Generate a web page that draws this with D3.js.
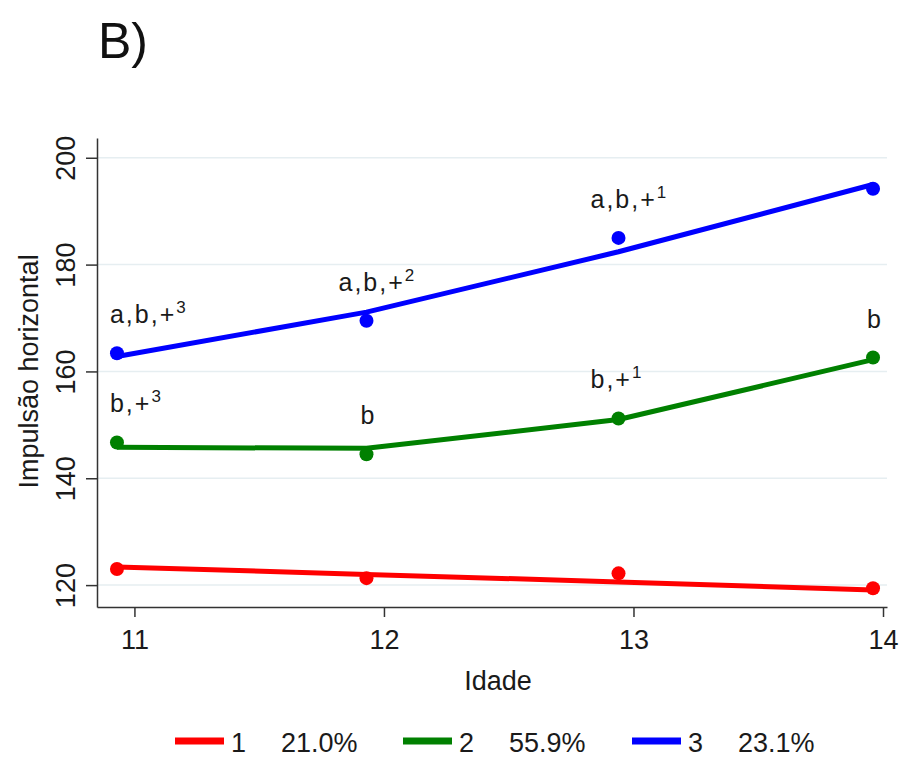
<!DOCTYPE html>
<html>
<head>
<meta charset="utf-8">
<script src="https://cdn.jsdelivr.net/npm/d3@7"></script>
<style>
  body { margin: 0; background: #fff; }
  svg { font-family: "Liberation Sans", Arial, sans-serif; }
</style>
</head>
<body>
<svg id="chart"></svg>
<script>
// data
const ages = [10.93, 11.93, 12.94, 13.96];
const xTicks = [11, 12, 13, 14];
const yTicks = [120, 140, 160, 180, 200];

const groupNames = ["1", "2", "3"];
const groupShares = ["21.0%", "55.9%", "23.1%"];
const groupColors = ["#ff0000", "#008000", "#0000ff"];

// observed means (dots)
const observed1 = [123.0, 121.3, 122.2, 119.4];
const observed2 = [146.7, 144.5, 151.2, 162.6];
const observed3 = [163.4, 169.5, 185.0, 194.2];

// fitted trajectories (lines)
const fitted1 = [123.4, 122.0, 120.6, 119.1];
const fitted2 = [145.8, 145.6, 151.0, 162.2];
const fitted3 = [162.8, 171.1, 182.4, 195.0];

// significance labels above dots: base text + superscript
const labels2 = ["b,+", "b", "b,+", "b"];
const sups2 = ["3", "", "1", ""];
const labels3 = ["a,b,+", "a,b,+", "a,b,+", ""];
const sups3 = ["3", "2", "1", ""];

const W = 901, H = 758;
const margin = { top: 138, right: 14, bottom: 151, left: 97 };
const textColor = "#1a1a1a";

const svg = d3.select("#chart").attr("width", W).attr("height", H);

const x = d3.scaleLinear().domain([10.85, 14.016]).range([margin.left, W - margin.right]);
const y = d3.scaleLinear().domain([115.9, 203.7]).range([H - margin.bottom, margin.top]);

// panel letter
svg.append("text")
  .attr("x", 98).attr("y", 58)
  .attr("font-size", 50)
  .attr("fill", "#111")
  .text("B)");

// gridlines
svg.append("g")
  .selectAll("line")
  .data(yTicks)
  .enter()
  .append("line")
  .attr("x1", margin.left)
  .attr("x2", W - margin.right)
  .attr("y1", (d) => y(d))
  .attr("y2", (d) => y(d))
  .attr("stroke", "#e6eef1")
  .attr("stroke-width", 1.5);

// axes
const yAxis = svg.append("g")
  .attr("transform", "translate(" + margin.left + ",0)")
  .call(d3.axisLeft(y).tickValues(yTicks).tickFormat(d3.format("d")).tickSize(11).tickSizeOuter(0));
yAxis.selectAll("text")
  .attr("font-size", 27)
  .attr("fill", textColor)
  .attr("transform", "rotate(-90)")
  .attr("x", 0)
  .attr("y", -22)
  .attr("dy", "0")
  .attr("text-anchor", "middle");

const xAxis = svg.append("g")
  .attr("transform", "translate(0," + (H - margin.bottom) + ")")
  .call(d3.axisBottom(x).tickValues(xTicks).tickFormat(d3.format("d")).tickSize(10).tickSizeOuter(0).tickPadding(13));
xAxis.selectAll("text").attr("font-size", 27).attr("fill", textColor);

[yAxis, xAxis].forEach((a) => {
  a.select(".domain").attr("stroke", "#333").attr("stroke-width", 1.5);
  a.selectAll(".tick line").attr("stroke", "#333").attr("stroke-width", 1.5);
});

// axis titles
svg.append("text")
  .attr("transform", "translate(38," + y(160) + ") rotate(-90)")
  .attr("text-anchor", "middle")
  .attr("font-size", 27)
  .attr("fill", textColor)
  .text("Impulsão horizontal");

svg.append("text")
  .attr("x", 498)
  .attr("y", 690)
  .attr("text-anchor", "middle")
  .attr("font-size", 27)
  .attr("fill", textColor)
  .text("Idade");

// series
const series = [
  { obs: observed1, fit: fitted1, color: groupColors[0], labels: null, sups: null },
  { obs: observed2, fit: fitted2, color: groupColors[1], labels: labels2, sups: sups2 },
  { obs: observed3, fit: fitted3, color: groupColors[2], labels: labels3, sups: sups3 },
];

const line = d3.line().x((d) => x(d[0])).y((d) => y(d[1]));

series.forEach((s) => {
  svg.append("path")
    .datum(ages.map((a, i) => [a, s.fit[i]]))
    .attr("d", line)
    .attr("fill", "none")
    .attr("stroke", s.color)
    .attr("stroke-width", 5)
    .attr("stroke-linejoin", "round");

  svg.append("g")
    .selectAll("circle")
    .data(ages.map((a, i) => [a, s.obs[i]]))
    .enter()
    .append("circle")
    .attr("cx", (d) => x(d[0]))
    .attr("cy", (d) => y(d[1]))
    .attr("r", 7)
    .attr("fill", s.color);

  if (s.labels) {
    s.labels.forEach((lab, i) => {
      if (!lab) return;
      const px = x(ages[i]);
      const py = y(s.obs[i]) - 30;
      const t = svg.append("text")
        .attr("font-size", 25)
        .attr("letter-spacing", 2)
        .attr("fill", textColor)
        .attr("y", py);
      if (i === 0) {
        t.attr("x", px - 7).attr("text-anchor", "start");
      } else if (s.sups[i]) {
        t.attr("x", px - 28).attr("text-anchor", "start");
      } else {
        t.attr("x", px + 1).attr("text-anchor", "middle").attr("letter-spacing", 0);
      }
      t.append("tspan").text(lab);
      if (s.sups[i]) {
        t.append("tspan")
          .attr("font-size", 17)
          .attr("letter-spacing", 0)
          .attr("dy", -10)
          .text(s.sups[i]);
      }
    });
  }
});

// legend
const legendX = [175, 403, 632];
const legend = svg.append("g");
groupNames.forEach((g, i) => {
  const lx = legendX[i];
  legend.append("line")
    .attr("x1", lx).attr("x2", lx + 49)
    .attr("y1", 741).attr("y2", 741)
    .attr("stroke", groupColors[i])
    .attr("stroke-width", 7);
  legend.append("text")
    .attr("x", lx + 56).attr("y", 752)
    .attr("font-size", 27)
    .attr("fill", textColor)
    .text(g);
  legend.append("text")
    .attr("x", lx + 106).attr("y", 752)
    .attr("font-size", 27)
    .attr("fill", textColor)
    .text(groupShares[i]);
});
</script>
</body>
</html>
